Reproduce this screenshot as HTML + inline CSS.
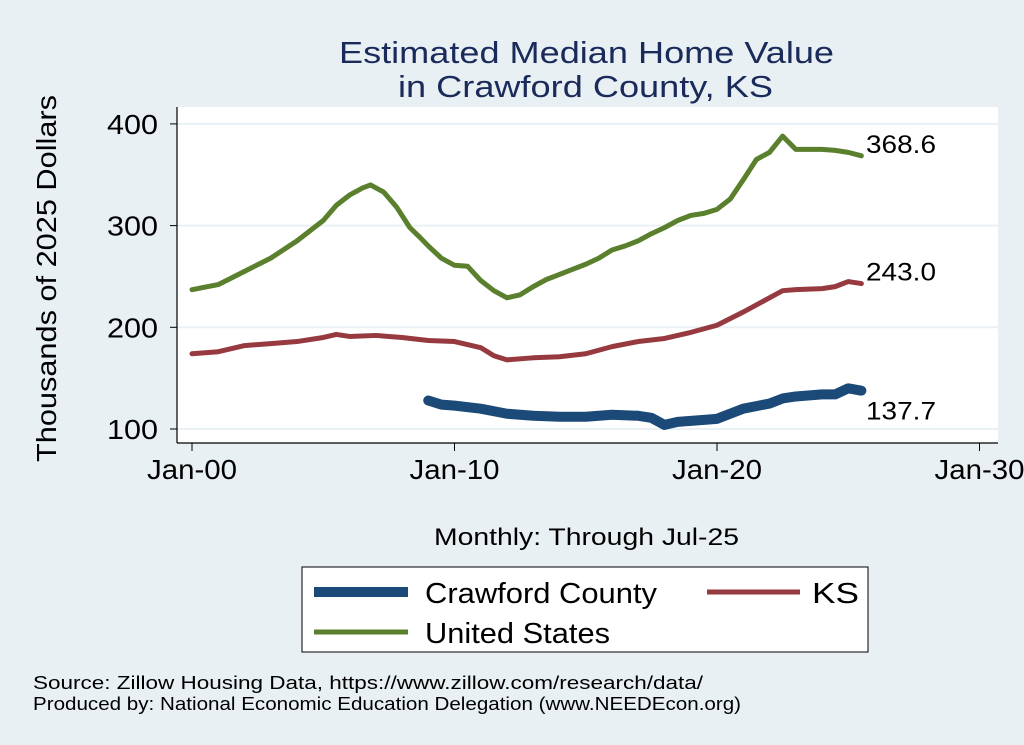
<!DOCTYPE html>
<html><head><meta charset="utf-8"><style>
body{margin:0;background:#e9f0f3;}
svg{display:block;font-family:"Liberation Sans",Arial,sans-serif;}
</style></head><body>
<svg width="1024" height="745" viewBox="0 0 1024 745">
<rect x="0" y="0" width="1024" height="745" fill="#e9f0f3"/>
<text x="339" y="63" font-size="31" fill="#1a2a5a" textLength="495" lengthAdjust="spacingAndGlyphs">Estimated Median Home Value</text>
<text x="398" y="97" font-size="31" fill="#1a2a5a" textLength="375" lengthAdjust="spacingAndGlyphs">in Crawford County, KS</text>
<rect x="177" y="107" width="821" height="336" fill="#fff"/>
<g id="grid"></g>
<line x1="177" y1="107" x2="177" y2="443" stroke="#000" stroke-width="1.2"/>
<line x1="177" y1="443" x2="998" y2="443" stroke="#000" stroke-width="1.2"/>
<g id="ticks"></g>
<g id="series"></g>
<text x="0" y="0" font-size="28" textLength="367" lengthAdjust="spacingAndGlyphs" transform="translate(56 462) rotate(-90)">Thousands of 2025 Dollars</text>
<text x="434" y="545" font-size="24" textLength="305" lengthAdjust="spacingAndGlyphs">Monthly: Through Jul-25</text>
<rect x="302" y="567" width="566" height="85" fill="#fff" stroke="#000" stroke-width="1"/>
<g><line x1="314" y1="592" x2="408" y2="592" stroke="#1b4a78" stroke-width="10"/><text x="425" y="603" font-size="29" textLength="232" lengthAdjust="spacingAndGlyphs">Crawford County</text></g>
<g><line x1="707" y1="592" x2="800" y2="592" stroke="#963a40" stroke-width="5"/><text x="812" y="603" font-size="29" textLength="47" lengthAdjust="spacingAndGlyphs">KS</text></g>
<g><line x1="314" y1="632" x2="408" y2="632" stroke="#5a7f2d" stroke-width="5"/><text x="425" y="643" font-size="29" textLength="185" lengthAdjust="spacingAndGlyphs">United States</text></g>
<text x="33" y="689" font-size="18" textLength="670" lengthAdjust="spacingAndGlyphs">Source: Zillow Housing Data, https://www.zillow.com/research/data/</text>
<text x="33" y="710" font-size="18" textLength="708" lengthAdjust="spacingAndGlyphs">Produced by: National Economic Education Delegation (www.NEEDEcon.org)</text>
</svg>
<script>
const yTicks=[100,200,300,400];
const xTickYears=[2000,2010,2020,2030];
const xTickLabels=["Jan-00","Jan-10","Jan-20","Jan-30"];
const usYears=[2000,2001,2002,2003,2004,2005,2005.5,2006,2006.5,2006.8,2007.3,2007.8,2008.3,2008.7,2009,2009.5,2010,2010.5,2011,2011.5,2012,2012.5,2013,2013.5,2014,2014.5,2015,2015.5,2016,2016.5,2017,2017.5,2018,2018.5,2019,2019.5,2020,2020.5,2021,2021.5,2022,2022.5,2023,2023.5,2024,2024.5,2025,2025.5];
const usValues=[237,242,255,268,285,305,320,330,337,340,333,318,298,288,280,268,261,260,246,236,229,232,240,247,252,257,262,268,276,280,285,292,298,305,310,312,316,326,345,365,372,388,375,375,375,374,372,368.6];
const ksYears=[2000,2001,2002,2003,2004,2005,2005.5,2006,2007,2008,2009,2010,2011,2011.5,2012,2013,2014,2015,2016,2017,2018,2019,2020,2021,2022,2022.5,2023,2024,2024.5,2025,2025.5];
const ksValues=[174,176,182,184,186,190,193,191,192,190,187,186,180,172,168,170,171,174,181,186,189,195,202,215,229,236,237,238,240,245,243];
const ccYears=[2009,2009.5,2010,2011,2012,2013,2014,2015,2016,2017,2017.5,2018,2018.5,2019,2020,2021,2022,2022.5,2023,2024,2024.5,2025,2025.5];
const ccValues=[128,124,123,120,115,113,112,112,114,113,111,104,107,108,110,120,125,130,132,134,134,140,137.7];
const labels=["368.6","243.0","137.7"];
const NS="http://www.w3.org/2000/svg";
function X(yr){return 192+(yr-2000)*26.25;}
function Y(v){return 429-(v-100)*1.017;}
function mk(tag,attrs,parent){const e=document.createElementNS(NS,tag);for(const k in attrs)e.setAttribute(k,attrs[k]);document.getElementById(parent).appendChild(e);return e;}
yTicks.forEach(v=>{
 const g=mk('line',{x1:177,x2:998,y1:Y(v),y2:Y(v),stroke:'#eaf1f4','stroke-width':2},'grid');
 
 
 const t=mk('line',{x1:170,x2:177,y1:Y(v),y2:Y(v),stroke:'#000'},'ticks');
 
 
 const l=mk('text',{x:158,y:Y(v)+10,'font-size':28,'text-anchor':'end',textLength:51,lengthAdjust:'spacingAndGlyphs'},'ticks');l.textContent=v;
 
 
});
xTickYears.forEach((yr,i)=>{
 const t=mk('line',{x1:X(yr),x2:X(yr),y1:443,y2:451,stroke:'#000'},'ticks');
 
 
 const l=mk('text',{x:X(yr)-45,y:479,'font-size':28,textLength:90,lengthAdjust:'spacingAndGlyphs'},'ticks');l.textContent=xTickLabels[i];
 
 
});
function line(xs,vs,color,w,name){
 const p=mk('polyline',{points:xs.map((x,i)=>X(x)+','+Y(vs[i])).join(' '),fill:'none',stroke:color,'stroke-width':w,'stroke-linejoin':'round','stroke-linecap':'round'},'series');
 
 
}
line(usYears,usValues,'#5a7f2d',5,'line-united-states');
line(ksYears,ksValues,'#963a40',5,'line-ks');
line(ccYears,ccValues,'#1b4a78',10,'line-crawford-county');
[[usYears,usValues],[ksYears,ksValues],[ccYears,ccValues]].forEach((s,i)=>{
 const v=s[1][s[1].length-1];
 const yy=i==2?Y(v)+29:Y(v)-3;
 const l=mk('text',{x:866,y:yy,'font-size':25,textLength:70,lengthAdjust:'spacingAndGlyphs'},'series');l.textContent=labels[i];
 
 
});
</script>
</body></html>
